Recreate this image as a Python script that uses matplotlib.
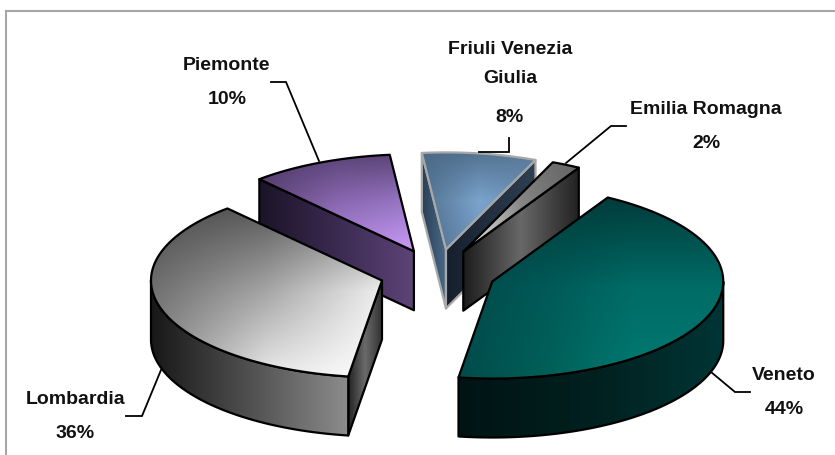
#!/usr/bin/python
import matplotlib
matplotlib.use('Agg')
import matplotlib.pyplot as plt
from matplotlib.colors import to_rgb
from matplotlib.patches import Polygon
import numpy as np

# data, clockwise from the first slice
regions = ['Veneto', 'Lombardia', 'Piemonte', 'Friuli Venezia\nGiulia', 'Emilia Romagna']
shares = [44, 36, 10, 8, 2]
start_angle = 30.0

# pie shape, in pixels
cx, cy = 437.5, 273.5
rx, ry = 231.0, 97.0
depth = 59.0
explode = 0.251

# colours as small grids (rows top to bottom), stretched over each face
top_cols = [
    [['#003c3c', '#003c3c', '#003c3c', '#003c3c'],
     ['#004a4a', '#005a58', '#006c66', '#006c66'],
     ['#004c4c', '#006058', '#007a72', '#007a72']],
    [['#4c4c4c', '#5a5a5a', '#888888'], ['#707070', '#a6a6a6', '#eeeeee'], ['#909090', '#e8e8e8', '#ffffff']],
    [['#4e3a68', '#5a4478', '#5c4478'], ['#5e4478', '#8a68b0', '#9a78c8'], ['#8060a8', '#b088e0', '#cc9cf8']],
    [['#4c6a88', '#527290', '#5a7a98'], ['#527290', '#7ba3cc', '#668db4'], ['#486886', '#7096be', '#668db4']],
    [['#cccccc', '#777777', '#666666'], ['#dddddd', '#888888', '#666666'], ['#eeeeee', '#999999', '#666666']],
]
wall_cols = [['#001414', '#00201f', '#003535'], ['#181818', '#505050', '#8c8c8c'], None, None, None]
cut_cols = [
    None,
    (['#222222', '#6a6a6a', '#333333'], 'start'),
    (['#1c1428', '#3a2a50', '#5e4478'], 'start'),
    (['#161f2c', '#2e4052'], 'end'),
    (['#1c1c1c', '#686868', '#222222'], 'end'),
]
edge_cols = ['black', 'black', 'black', '#a8a8a8', 'black']
# painter's order, back to front
draw_order = [2, 3, 4, 1, 0]

# label positions
label_xy = [(784, 376), (76, 400), (226, 65), (510, 64), (706, 110)]
pct_xy = [(784, 410), (75, 434), (227, 100), (509, 117), (706, 144)]
leaders = [
    ([711, 735, 750], [372, 392, 392]),
    ([126, 142, 161], [416, 416, 370]),
    ([271, 286, 319], [82, 82, 161]),
    ([509, 509, 479], [138, 152, 152]),
    ([626, 611, 566], [126, 126, 163]),
]

zcount = [2.0]


def rim(ax_x, ax_y, a0, a1, n=80):
    t = np.radians(np.linspace(a0, a1, n))
    return ax_x + rx * np.sin(t), ax_y - ry * np.cos(t)


def shade(ax, xs, ys, grid, edge, lw=1.6):
    rows = np.array([[to_rgb(c) for c in r] for r in grid])
    nr, nc = rows.shape[:2]
    u = np.linspace(0, nc - 1, 120)
    v = np.linspace(0, nr - 1, 120)
    img = np.zeros((120, 120, 3))
    across = np.zeros((nr, 120, 3))
    for k in range(3):
        for i in range(nr):
            across[i, :, k] = np.interp(u, np.arange(nc), rows[i, :, k])
        for j in range(120):
            img[:, j, k] = np.interp(v, np.arange(nr), across[:, j, k])
    zcount[0] += 1
    poly = Polygon(np.column_stack([xs, ys]), closed=True, fc='none', ec=edge, lw=lw,
                   joinstyle='round', zorder=zcount[0] + 0.5)
    ax.add_patch(poly)
    im = ax.imshow(img, extent=[min(xs), max(xs), max(ys), min(ys)], aspect='auto',
                   interpolation='bilinear', zorder=zcount[0])
    im.set_clip_path(poly)


fig = plt.figure(figsize=(8.35, 4.55), dpi=100)
ax = fig.add_axes([0, 0, 1, 1])

angles = [start_angle]
for s in shares:
    angles.append(angles[-1] + s / sum(shares) * 360.0)

for i in draw_order:
    a0, a1 = angles[i], angles[i + 1]
    mid = np.radians((a0 + a1) / 2)
    ox = cx + explode * rx * np.sin(mid)
    oy = cy - explode * ry * np.cos(mid)
    edge = edge_cols[i]

    # Friuli also shows its other cut side
    if i == 3:
        ex, ey = rim(ox, oy, a0, a0, 1)
        xs = [ox, ex[0], ex[0], ox]
        ys = [oy, ey[0], ey[0] + depth, oy + depth]
        shade(ax, xs, ys, [['#2b3f55', '#4a6b8a']], edge)
    # flat cut side
    if cut_cols[i] is not None:
        cols, side = cut_cols[i]
        a = a0 if side == 'start' else a1
        ex, ey = rim(ox, oy, a, a, 1)
        xs = [ox, ex[0], ex[0], ox]
        ys = [oy, ey[0], ey[0] + depth, oy + depth]
        shade(ax, xs, ys, [cols], edge)

    # outer wall, only the part that faces the viewer
    if wall_cols[i] is not None:
        w0, w1 = max(a0, 90), min(a1, 270)
        wx, wy = rim(ox, oy, w1, w0)
        xs = np.r_[wx, wx[::-1]]
        ys = np.r_[wy, wy[::-1] + depth]
        shade(ax, xs, ys, [wall_cols[i]], edge)

    # top face
    tx, ty = rim(ox, oy, a0, a1)
    xs = np.r_[ox, tx]
    ys = np.r_[oy, ty]
    shade(ax, xs, ys, top_cols[i], edge)

for (lx, ly), lab in zip(leaders, regions):
    ax.plot(lx, ly, color='black', lw=1.3, solid_joinstyle='miter', zorder=50)

font = dict(family='Liberation Sans', fontweight='bold', fontsize=14,
            color='#111111', ha='center', va='center', zorder=60, linespacing=1.98)
for (x, y), lab in zip(label_xy, regions):
    ax.text(x, y, lab, **font)
for (x, y), s in zip(pct_xy, shares):
    ax.text(x, y, '{}%'.format(s), **font)

# chart frame
ax.plot([6, 6], [455, 11], color='#a6a6a6', lw=1.5, zorder=1)
ax.plot([6, 835], [11, 11], color='#a6a6a6', lw=1.5, zorder=1)

ax.set_xlim(0, 835)
ax.set_ylim(455, 0)
ax.axis('off')
fig.savefig('out.png', dpi=100)
